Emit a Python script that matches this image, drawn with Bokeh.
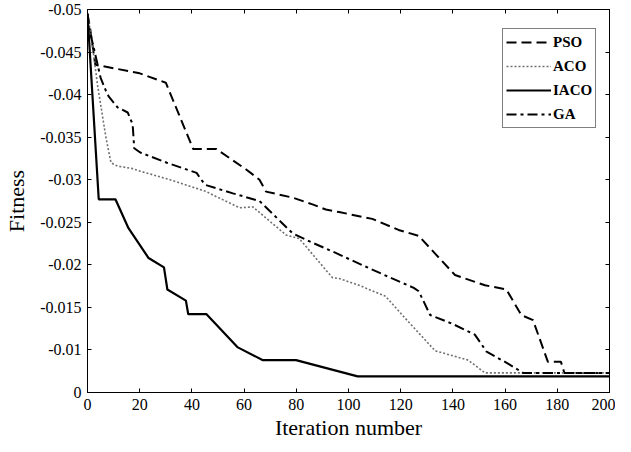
from bokeh.plotting import figure
from bokeh.models import Range1d, FixedTicker, LinearAxis, CustomJSTickFormatter
from bokeh.embed import file_html
from bokeh.resources import INLINE

# ---- data ----
pso_x = [0, 1, 3, 10, 20, 30, 40.5, 49.4, 60.8, 65.9, 68.4, 78.6, 86.2, 91.3, 96.4, 109.1, 119.2, 126.9,
         140.8, 152.3, 160.5, 166.2, 170.7, 176.4, 181.4, 182.7, 200]
pso_y = [-0.0495, -0.0478, -0.0435, -0.0431, -0.0425, -0.0414, -0.0336, -0.0336, -0.0312, -0.0300, -0.0286,
         -0.0279, -0.0271, -0.0265, -0.0262, -0.0254, -0.0241, -0.0234, -0.0188, -0.0176, -0.0171, -0.0141,
         -0.0135, -0.0086, -0.0086, -0.0073, -0.0073]

aco_x = [0, 1.4, 3.9, 7.1, 9, 11.5, 17.3, 20.2, 31.6, 45.6, 48.1, 58.3, 63.4, 76.1, 81.1, 93.8, 96.4, 104,
         114.2, 121.8, 126.9, 133.2, 145.9, 152.3, 200]
aco_y = [-0.0495, -0.0469, -0.0410, -0.0349, -0.0320, -0.0316, -0.0313, -0.0310, -0.0300, -0.0286, -0.0282,
         -0.0267, -0.0268, -0.0235, -0.0231, -0.0185, -0.0184, -0.0176, -0.0163, -0.0137, -0.0120, -0.0099,
         -0.0088, -0.0073, -0.0073]

iaco_x = [0, 4.3, 10.7, 15.7, 23.4, 29.3, 30.6, 37.7, 38.6, 45.6, 57.6, 67.2, 79.9, 103.5, 200]
iaco_y = [-0.0495, -0.0277, -0.0277, -0.0243, -0.0208, -0.0197, -0.0171, -0.0158, -0.0142, -0.0142, -0.0103,
          -0.0088, -0.0088, -0.0069, -0.0069]

ga_x = [0, 0.5, 2.4, 5, 7.1, 8.1, 11.5, 15.4, 17.3, 17.9, 20.2, 30.4, 41.8, 45, 55.7, 65.9, 78.6, 86.2, 95.1,
        106.5, 116.7, 125, 126.9, 131.3, 139.6, 148.4, 152.9, 161.1, 166.9, 200]
ga_y = [-0.0495, -0.0479, -0.0455, -0.0420, -0.0404, -0.0398, -0.0385, -0.0379, -0.0365, -0.0337, -0.0332,
        -0.0320, -0.0308, -0.0294, -0.0284, -0.0275, -0.0237, -0.0226, -0.0214, -0.0198, -0.0184, -0.0173,
        -0.0169, -0.0141, -0.0131, -0.0118, -0.0098, -0.0084, -0.0073, -0.0073]

x_ticks = [0, 20, 40, 60, 80, 100, 120, 140, 160, 180, 200]
y_ticks = [-0.05, -0.045, -0.04, -0.035, -0.03, -0.025, -0.02, -0.015, -0.01, -0.005]
y_tick_labels = ["-0.05", "-0.045", "-0.04", "-0.035", "-0.03", "-0.025", "-0.02", "-0.015", "-0.01", "0"]

FONT = "Liberation Serif"

p = figure(width=615, height=444, output_backend="svg", toolbar_location=None,
           x_range=Range1d(0, 200), y_range=Range1d(-0.005, -0.05),
           min_border_left=87, min_border_right=6, min_border_top=9, min_border_bottom=52,
           background_fill_color="white", border_fill_color="white")
p.grid.visible = False
p.outline_line_color = "black"
p.outline_line_width = 1

p.line(pso_x, pso_y, line_color="black", line_width=2, line_dash="10 5", legend_label="PSO")
p.line(aco_x, aco_y, line_color="#707070", line_width=1.6, line_dash="2 2", legend_label="ACO")
p.line(iaco_x, iaco_y, line_color="black", line_width=2.2, legend_label="IACO")
p.line(ga_x, ga_y, line_color="black", line_width=2, line_dash="10 4 3 4", legend_label="GA")

xa = p.xaxis[0]
ya = p.yaxis[0]
xa.ticker = FixedTicker(ticks=x_ticks)
ya.ticker = FixedTicker(ticks=y_ticks)
ya.major_label_overrides = {t: l for t, l in zip(y_ticks, y_tick_labels)}
xa.axis_label = "Iteration number"
ya.axis_label = "Fitness"
for ax in (xa, ya):
    ax.major_tick_in = 4
    ax.major_tick_out = 0
    ax.minor_tick_in = 0
    ax.minor_tick_out = 0
    ax.axis_line_color = "black"
    ax.major_tick_line_color = "black"
    ax.major_label_text_font = FONT
    ax.major_label_text_font_size = "16px"
    ax.major_label_text_color = "black"
    ax.axis_label_text_font = FONT
    ax.axis_label_text_font_size = "22px"
    ax.axis_label_text_font_style = "normal"
    ax.axis_label_text_color = "black"
xa.major_label_standoff = 6
xa.axis_label_standoff = 2
ya.major_label_standoff = 6
ya.axis_label_standoff = 8

blank = CustomJSTickFormatter(code="return ''")
top = LinearAxis(ticker=FixedTicker(ticks=x_ticks), formatter=blank,
                 major_tick_in=4, major_tick_out=0, minor_tick_in=0, minor_tick_out=0,
                 major_label_standoff=0, axis_line_color="black")
right = LinearAxis(ticker=FixedTicker(ticks=y_ticks), formatter=blank,
                   major_tick_in=4, major_tick_out=0, minor_tick_in=0, minor_tick_out=0,
                   major_label_standoff=0, axis_line_color="black")
p.add_layout(top, "above")
p.add_layout(right, "right")

leg = p.legend[0]
leg.location = (415, 264)
leg.border_line_color = "black"
leg.border_line_width = 1
leg.background_fill_color = "white"
leg.background_fill_alpha = 1
leg.label_text_font = FONT
leg.label_text_font_style = "bold"
leg.label_text_font_size = "15px"
leg.label_text_color = "black"
leg.glyph_width = 45
leg.glyph_height = 20
leg.label_height = 20
leg.label_standoff = 2
leg.spacing = 4
leg.padding = 3
leg.margin = 0

open("out.html", "w").write(file_html(p, INLINE))
